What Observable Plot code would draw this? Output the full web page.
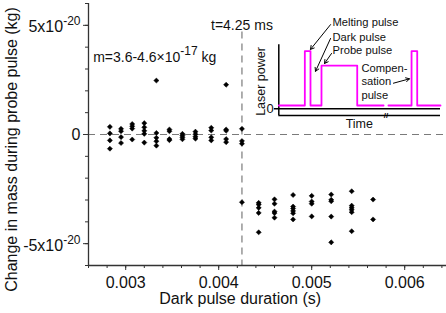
<!DOCTYPE html>
<html>
<head>
<meta charset="utf-8">
<script src="https://cdn.jsdelivr.net/npm/d3@7"></script>
<script src="https://cdn.jsdelivr.net/npm/@observablehq/plot@0.6"></script>
<style>
  html, body { margin: 0; padding: 0; background: #fff; }
  #wrap { position: relative; width: 446px; height: 313px; overflow: hidden; }
  #wrap svg { position: absolute; left: 0; top: 0; }
</style>
</head>
<body>
<div id="wrap"></div>
<script>
// ---- data: dark pulse duration (s) and change in mass (kg) ----
const durations = [
  0.00283, 0.00283, 0.00283, 0.00283,
  0.00295, 0.00295, 0.00295, 0.00295,
  0.00307, 0.00307, 0.00307, 0.00307,
  0.00320, 0.00320, 0.00320, 0.00320, 0.00320,
  0.00333, 0.00333, 0.00333, 0.00333, 0.00333,
  0.00347, 0.00347, 0.00347, 0.00347,
  0.00361, 0.00361, 0.00361, 0.00361,
  0.00375, 0.00375, 0.00375, 0.00375,
  0.00392, 0.00392, 0.00392, 0.00392,
  0.00408, 0.00408, 0.00408, 0.00408, 0.00408,
  0.00425, 0.00425, 0.00425, 0.00425,
  0.00443, 0.00443, 0.00443, 0.00443, 0.00443,
  0.00460, 0.00460, 0.00460, 0.00460, 0.00460,
  0.00480, 0.00480, 0.00480, 0.00480, 0.00480, 0.00480,
  0.00500, 0.00500, 0.00500, 0.00500,
  0.00521, 0.00521, 0.00521, 0.00521, 0.00521,
  0.00543, 0.00543, 0.00543, 0.00543, 0.00543, 0.00543,
  0.00566, 0.00566
];
const massChange = [
  0.35e-20, 0.05e-20, -0.27e-20, -0.65e-20,
  0.26e-20, 0.15e-20, -0.12e-20, -0.39e-20,
  0.48e-20, 0.38e-20, 0.27e-20, -0.23e-20,
  0.52e-20, 0.33e-20, 0.17e-20, 0.03e-20, -0.37e-20,
  2.47e-20, 0.07e-20, -0.15e-20, -0.31e-20, -0.51e-20,
  0.23e-20, 0.15e-20, -0.21e-20, -0.26e-20,
  0.03e-20, -0.05e-20, -0.13e-20, -0.22e-20,
  0.13e-20, 0.01e-20, -0.10e-20, -0.19e-20,
  0.31e-20, 0.18e-20, -0.13e-20, -0.27e-20,
  2.28e-20, 0.23e-20, 0.17e-20, -0.21e-20, -0.35e-20,
  0.26e-20, -0.30e-20, -0.42e-20, -3.10e-20,
  -3.13e-20, -3.21e-20, -3.36e-20, -3.59e-20, -4.48e-20,
  -2.97e-20, -3.17e-20, -3.53e-20, -3.60e-20, -3.81e-20,
  -2.77e-20, -3.30e-20, -3.39e-20, -3.50e-20, -3.61e-20, -3.89e-20,
  -2.81e-20, -3.07e-20, -3.17e-20, -3.75e-20,
  -2.75e-20, -2.99e-20, -3.06e-20, -3.76e-20, -4.94e-20,
  -2.60e-20, -3.26e-20, -3.36e-20, -3.45e-20, -3.56e-20, -4.43e-20,
  -2.98e-20, -3.89e-20
];
const thresholdDuration = 0.00425;

// ---- axes ----
const xDomain = [0.0026, 0.0064];
const yDomain = [-6e-20, 6e-20];
const xMajorTicks = [0.003, 0.004, 0.005, 0.006];
const xTickLabels = ["0.003", "0.004", "0.005", "0.006"];
const xMinorTicks = [0.0026, 0.0028, 0.0030, 0.0032, 0.0034, 0.0036, 0.0038, 0.0040, 0.0042, 0.0044,
                     0.0046, 0.0048, 0.0050, 0.0052, 0.0054, 0.0056, 0.0058, 0.0060, 0.0062, 0.0064];
const yMajorTicks = [5e-20, 0, -5e-20];
const yTickLabels = ["5x10^-20", "0", "-5x10^-20"];
const yMinorTicks = [-6e-20, -5e-20, -4e-20, -3e-20, -2e-20, -1e-20, 0, 1e-20, 2e-20, 3e-20, 4e-20, 5e-20, 6e-20];
const xLabel = "Dark pulse duration (s)";
const yLabel = "Change in mass during probe pulse (kg)";
const thresholdLabel = "t=4.25 ms";
const massLabel = "m=3.6-4.6×10^-17^ kg";

// ---- inset schematic: laser power vs time (arbitrary units) ----
const waveTime  = [0, 1.61, 1.61, 1.96, 1.96, 2.64, 2.64, 4.85, 4.85, 6.48,
                   6.78, 8.21, 8.21, 8.56, 8.56, 10];
const wavePower = [0.057, 0.057, 1, 1, 0.057, 0.057, 0.75, 0.75, 0.057, 0.057,
                   0.057, 0.057, 1, 1, 0.057, 0.057];
const waveSegment = [0, 0, 0, 0, 0, 0, 0, 0, 0, 0, 1, 1, 1, 1, 1, 1];
const insetTextLabels = ["Melting pulse", "Dark pulse", "Probe pulse", "Compen-", "sation", "pulse"];
const insetTextT = [3.32, 3.32, 3.32, 5.11, 5.11, 5.11];
const insetTextP = [1.50, 1.23, 1.01, 0.705, 0.474, 0.231];
const arrowT1 = [3.2, 3.2, 3.26, 7.09];
const arrowP1 = [1.46, 1.22, 0.96, 0.444];
const arrowT2 = [1.96, 2.27, 2.83, 8.08];
const arrowP2 = [1.03, 0.65, 0.786, 0.52];

const font = "'Liberation Sans', Arial, sans-serif";
const axisColor = "#333";
const points = durations.map((d, i) => ({d, m: massChange[i]}));

const main = Plot.plot({
  width: 446, height: 313,
  marginLeft: 88, marginRight: 4.6, marginTop: 3, marginBottom: 48,
  style: {fontFamily: font, fontSize: "16px", background: "transparent", color: "#111"},
  x: {domain: xDomain},
  y: {domain: yDomain},
  marks: [
    Plot.ruleY([0], {x1: xDomain[0], x2: 0.00647, stroke: "#7a7a7a", strokeWidth: 1.2, strokeDasharray: "7,5"}),
    Plot.ruleX([thresholdDuration], {y1: 4.7e-20, y2: yDomain[0], stroke: "#7a7a7a", strokeWidth: 1.2, strokeDasharray: "7,5"}),
    Plot.dot(points, {x: "d", y: "m", symbol: "diamond2", r: 2.3, fill: "#000", stroke: "#000", strokeWidth: 0.5}),
    Plot.ruleX([xDomain[0]], {stroke: axisColor, strokeWidth: 1.3}),
    Plot.ruleY([yDomain[0]], {x1: xDomain[0], x2: 0.00645, stroke: axisColor, strokeWidth: 1.3}),
    Plot.axisX({ticks: xMajorTicks, tickFormat: (d, i) => xTickLabels[i], tickSize: 5, tickPadding: 6,
                fontSize: 16, label: null, stroke: axisColor, fill: "#111"}),
    Plot.axisX({ticks: xMinorTicks, tickFormat: () => "", tickSize: 3, label: null, stroke: axisColor}),
    Plot.axisY({ticks: yMajorTicks, tickFormat: () => "", tickSize: 5, label: null, stroke: axisColor}),
    Plot.axisY({ticks: yMinorTicks, tickFormat: () => "", tickSize: 3, label: null, stroke: axisColor}),
    Plot.text(yMajorTicks, {frameAnchor: "left", y: d => d, text: (d, i) => yTickLabels[i],
                            textAnchor: "end", dx: -8, fontSize: 16, fill: "#111"}),
    Plot.text([xLabel], {frameAnchor: "bottom", textAnchor: "middle", lineAnchor: "middle",
                         dx: -25, dy: 33, fontSize: 16, fill: "#111"}),
    Plot.text([yLabel], {frameAnchor: "left", textAnchor: "middle", lineAnchor: "middle", rotate: -90,
                         dx: -77, dy: 15, fontSize: 16, fill: "#111"}),
    Plot.text([thresholdLabel], {x: thresholdDuration, y: 5e-20, fontSize: 14, fill: "#111"}),
    Plot.text([massLabel], {x: 0.00265, y: 3.62e-20, textAnchor: "start", fontSize: 14, fill: "#111"})
  ]
});

const waveData = waveTime.map((t, i) => ({t, p: wavePower[i], s: waveSegment[i]}));
const insetTexts = insetTextLabels.map((s, i) => ({label: s, t: insetTextT[i], p: insetTextP[i]}));
const arrows = arrowT1.map((t, i) => ({t1: t, p1: arrowP1[i], t2: arrowT2[i], p2: arrowP2[i]}));

const inset = Plot.plot({
  width: 446, height: 313,
  marginLeft: 278.3, marginRight: 6, marginTop: 44.3, marginBottom: 198,
  style: {fontFamily: font, fontSize: "12px", background: "transparent", color: "#111"},
  x: {domain: [0, 10], axis: null},
  y: {domain: [-0.116, 1.11], axis: null},
  marks: [
    Plot.ruleY([0], {x1: -0.27, x2: 10, stroke: "#000", strokeWidth: 1.5}),
    Plot.ruleX([0], {y1: -0.116, y2: 1.11, stroke: "#000", strokeWidth: 1.5}),
    Plot.ruleY([-0.116], {x1: 0, x2: 10, stroke: "#000", strokeWidth: 1.5}),
    Plot.text(["//"], {x: 6.63, y: -0.116, fontSize: 8, fontWeight: "bold", fill: "#000"}),
    Plot.line(waveData, {x: "t", y: "p", z: "s", stroke: "#ff00ff", strokeWidth: 1.8}),
    Plot.text(["0"], {x: -0.32, y: 0, textAnchor: "end", fontSize: 13, fill: "#111"}),
    Plot.text(["Laser power"], {x: -1.07, y: 0.474, rotate: -90, fontSize: 12.5, fill: "#111"}),
    Plot.text(["Time"], {x: 4.98, y: -0.27, fontSize: 12.5, fill: "#111"}),
    Plot.text(insetTexts, {x: "t", y: "p", text: "label", textAnchor: "start", fontSize: 11.2, fill: "#111"}),
    Plot.arrow(arrows, {x1: "t1", y1: "p1", x2: "t2", y2: "p2", stroke: "#000", strokeWidth: 1, headLength: 6, bend: 0})
  ]
});

// superscripts: "base^sup^rest"
function supify(svg, supSize, shift, baseShift) {
  d3.select(svg).selectAll("text").each(function() {
    const t = d3.select(this);
    const s = t.text();
    if (!s.includes("^")) return;
    const parts = s.split("^");
    t.text("");
    t.append("tspan").attr("dy", baseShift).text(parts[0]);
    t.append("tspan").attr("dy", -shift).attr("font-size", supSize).text(parts[1]);
    if (parts[2]) t.append("tspan").attr("dy", shift).text(parts[2]);
  });
}
supify(main, 12, 7, 2);

document.getElementById("wrap").appendChild(main);
document.getElementById("wrap").appendChild(inset);
</script>
</body>
</html>
